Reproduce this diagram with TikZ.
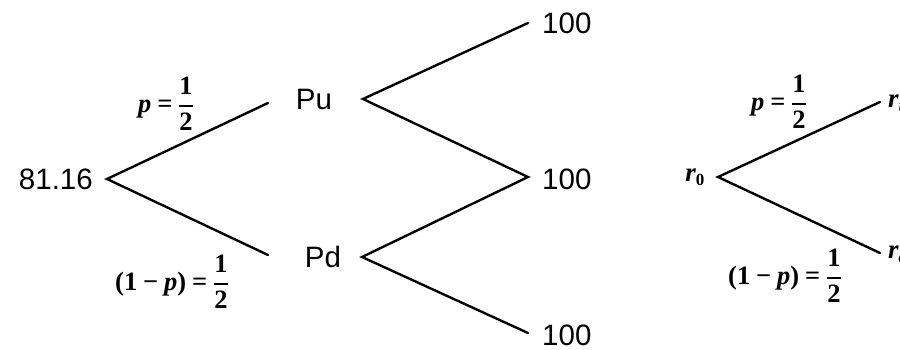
\documentclass[tikz,border=0pt]{standalone}
\usepackage{mathptmx}
\usepackage{fontspec}
\newfontfamily\sansf{Liberation Sans}
\newfontfamily\serf{Liberation Serif}
\newcommand{\bt}[1]{\mbox{\serf\bfseries #1}}
\newcommand{\bi}[1]{\mbox{\serf\bfseries\itshape #1}}
\newcommand{\sbt}[1]{\mbox{\serf\bfseries\fontsize{17}{19}\selectfont #1}}
\newcommand{\sbi}[1]{\mbox{\serf\bfseries\itshape\fontsize{17}{19}\selectfont #1}}
\begin{document}
\begin{tikzpicture}[x=1pt,y=-1pt,
  branch/.style={line width=2.4pt,line cap=round},
  val/.style={inner sep=0pt,font=\sansf\fontsize{29.5}{34}\selectfont},
  prob/.style={inner sep=0pt,font=\fontsize{26.5}{30}\selectfont},
  rate/.style={inner sep=0pt,font=\fontsize{27}{30}\selectfont}]
\useasboundingbox (0,0) rectangle (900,350);
\clip (0,0) rectangle (900,350);
% left tree
\node[val,anchor=east] (v0) at (93,179) {81.16};
\node[val] (pu) at (314,99) {Pu};
\node[val] (pd) at (323,257) {Pd};
\node[val,anchor=west] (uu) at (542,23) {100};
\node[val,anchor=west] (ud) at (542,179) {100};
\node[val,anchor=west] (dd) at (542,335) {100};
\coordinate (a0) at (107,179);
\coordinate (a0u) at (268,103);
\coordinate (a0d) at (268,255);
\coordinate (apu) at (363,99);
\coordinate (apd) at (362,257);
\coordinate (euu) at (528,23);
\coordinate (eud) at (528,177);
\coordinate (edd) at (528,333);
\draw[branch] (a0u) -- (a0) -- (a0d);
\draw[branch] (euu) -- (apu) -- (eud) -- (apd) -- (edd);
\node[prob] (lp) at (166,104) {$\displaystyle \bi{p} \mathrel{\bt{=}} \frac{\bt{1}}{\bt{2}}$};
\node[prob] (lq) at (172,282) {$\displaystyle \bt{(1}\;\bt{−}\;\bi{p}\bt{)} \mathrel{\bt{=}} \frac{\bt{1}}{\bt{2}}$};
% right tree
\node[rate] (r0) at (695,177) {$\bi{r}_{\sbt{0}}$};
\coordinate (b0) at (718,177);
\coordinate (b0u) at (880,102);
\coordinate (b0d) at (880,253);
\draw[branch] (b0u) -- (b0) -- (b0d);
\node[rate,anchor=west] (ru) at (888,103) {$\bi{r}_{\sbi{u}}$};
\node[rate,anchor=west] (rd) at (888,254) {$\bi{r}_{\sbi{d}}$};
\node[prob] (rp) at (779,102) {$\displaystyle \bi{p} \mathrel{\bt{=}} \frac{\bt{1}}{\bt{2}}$};
\node[prob] (rq) at (785,276) {$\displaystyle \bt{(1}\;\bt{−}\;\bi{p}\bt{)} \mathrel{\bt{=}} \frac{\bt{1}}{\bt{2}}$};
\end{tikzpicture}
\end{document}
